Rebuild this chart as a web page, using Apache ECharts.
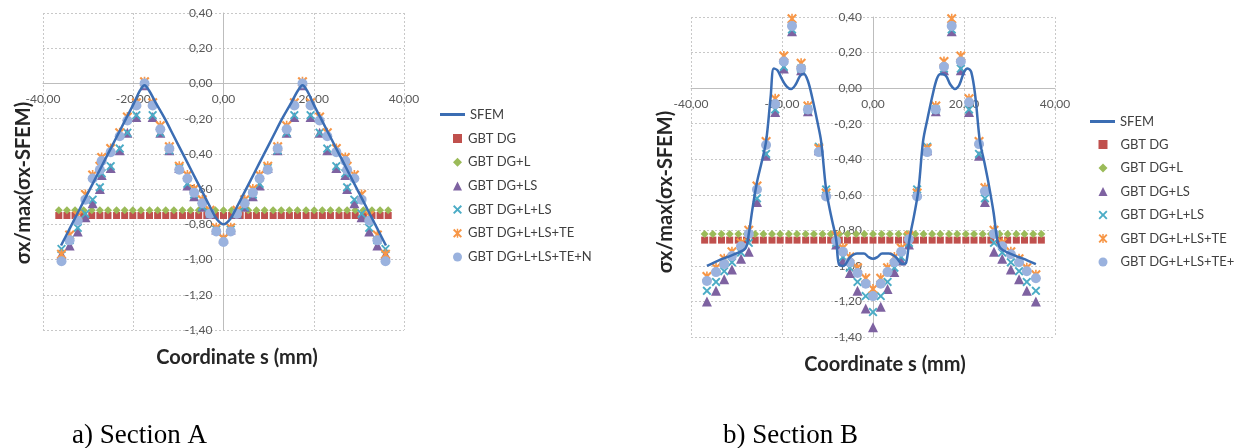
<!DOCTYPE html>
<html>
<head>
<meta charset="utf-8">
<script src="https://cdn.jsdelivr.net/npm/echarts@6/dist/echarts.min.js"></script>
<style>
html,body{margin:0;padding:0;background:#fff;}
#c{width:1235px;height:448px;}
</style>
</head>
<body>
<div id="c"></div>
<script>
// ---------- Section A ----------
const A_SFEM_X = [-36,-34,-32,-30,-28,-26,-24,-22,-20,-18.5,-17.5,-16.5,-15,-13,-11,-9,-7,-5,-3,-1.5,0,1.5,3,5,7,9,11,13,15,16.5,17.5,18.5,20,22,24,26,28,30,32,34,36];
const A_SFEM_Y = [-0.92,-0.82,-0.72,-0.62,-0.52,-0.42,-0.32,-0.22,-0.12,-0.04,-0.01,-0.04,-0.11,-0.20,-0.30,-0.40,-0.50,-0.60,-0.70,-0.77,-0.80,-0.77,-0.70,-0.60,-0.50,-0.40,-0.30,-0.20,-0.11,-0.04,-0.01,-0.04,-0.12,-0.22,-0.32,-0.42,-0.52,-0.62,-0.72,-0.82,-0.92];

const A_FLAT_X = [-36.5,-34.7,-32.9,-31.0,-29.2,-27.4,-25.6,-23.7,-21.9,-20.1,-18.3,-16.4,-14.6,-12.8,-11.0,-9.1,-7.3,-5.5,-3.7,-1.8,0,1.8,3.7,5.5,7.3,9.1,11.0,12.8,14.6,16.4,18.3,20.1,21.9,23.7,25.6,27.4,29.2,31.0,32.9,34.7,36.5];
const A_DG  = [-0.75,-0.75,-0.75,-0.75,-0.75,-0.75,-0.75,-0.75,-0.75,-0.75,-0.75,-0.75,-0.75,-0.75,-0.75,-0.75,-0.75,-0.75,-0.75,-0.75,-0.75,-0.75,-0.75,-0.75,-0.75,-0.75,-0.75,-0.75,-0.75,-0.75,-0.75,-0.75,-0.75,-0.75,-0.75,-0.75,-0.75,-0.75,-0.75,-0.75,-0.75];
const A_DGL = [-0.72,-0.72,-0.72,-0.72,-0.72,-0.72,-0.72,-0.72,-0.72,-0.72,-0.72,-0.72,-0.72,-0.72,-0.72,-0.72,-0.72,-0.72,-0.72,-0.72,-0.72,-0.72,-0.72,-0.72,-0.72,-0.72,-0.72,-0.72,-0.72,-0.72,-0.72,-0.72,-0.72,-0.72,-0.72,-0.72,-0.72,-0.72,-0.72,-0.72,-0.72];

const A_GBT_X = [-35.9,-34.1,-32.3,-30.6,-29.0,-27.4,-27.0,-25.0,-23.0,-21.3,-19.3,-17.5,-15.7,-14.0,-12.0,-9.8,-8.0,-6.5,-4.7,-3.0,-1.6,0,1.6,3.0,4.7,6.5,8.0,9.8,12.0,14.0,15.7,17.5,19.3,21.3,23.0,25.0,27.0,27.4,29.0,30.6,32.3,34.1,35.9];
const A_LS  = [-0.97,-0.92,-0.84,-0.76,-0.68,-0.60,-0.52,-0.48,-0.38,-0.28,-0.19,-0.01,-0.19,-0.28,-0.38,-0.48,-0.58,-0.64,-0.70,-0.74,-0.83,-0.88,-0.83,-0.74,-0.70,-0.64,-0.58,-0.48,-0.38,-0.28,-0.19,-0.01,-0.19,-0.28,-0.38,-0.48,-0.52,-0.60,-0.68,-0.76,-0.84,-0.92,-0.97];
const A_LLS = [-0.94,-0.89,-0.82,-0.74,-0.66,-0.59,-0.51,-0.47,-0.37,-0.28,-0.18,-0.01,-0.18,-0.28,-0.38,-0.48,-0.57,-0.63,-0.70,-0.74,-0.83,-0.88,-0.83,-0.74,-0.70,-0.63,-0.57,-0.48,-0.38,-0.28,-0.18,-0.01,-0.18,-0.28,-0.37,-0.47,-0.51,-0.59,-0.66,-0.74,-0.82,-0.89,-0.94];
const A_TE  = [-0.97,-0.86,-0.75,-0.63,-0.52,-0.47,-0.42,-0.37,-0.28,-0.19,-0.11,0.01,-0.11,-0.24,-0.36,-0.47,-0.52,-0.60,-0.66,-0.72,-0.82,-0.88,-0.82,-0.72,-0.66,-0.60,-0.52,-0.47,-0.36,-0.24,-0.11,0.01,-0.11,-0.19,-0.28,-0.37,-0.42,-0.47,-0.52,-0.63,-0.75,-0.86,-0.97];
const A_N   = [-1.01,-0.89,-0.78,-0.66,-0.54,-0.49,-0.44,-0.39,-0.30,-0.21,-0.125,0.00,-0.125,-0.26,-0.37,-0.49,-0.54,-0.62,-0.68,-0.74,-0.84,-0.90,-0.84,-0.74,-0.68,-0.62,-0.54,-0.49,-0.37,-0.26,-0.125,0.00,-0.125,-0.21,-0.30,-0.39,-0.44,-0.49,-0.54,-0.66,-0.78,-0.89,-1.01];

// ---------- Section B ----------
const B_SFEM_X = [-36.5,-34,-32,-30,-28,-27.3,-26.5,-25.5,-24.5,-23.5,-22.5,-21.8,-21,-20,-19,-18,-17,-16,-15.2,-14.3,-13.3,-12.3,-11.4,-10.3,-9.2,-8.1,-7.5,-6.5,-5,-3.5,-2,-1,0,1,2,3.5,5,6.5,7.3,8,9,10,11,12,13,14,14.8,16,17,18,19,20,20.8,21.6,22.5,23.5,24.5,25.5,26.5,27.3,28,30,32,34,35.8];
const B_SFEM_Y = [-1.00,-0.97,-0.95,-0.93,-0.90,-0.82,-0.68,-0.53,-0.42,-0.30,-0.05,0.11,0.10,0.05,0.01,-0.005,0.02,0.07,0.08,0.04,-0.06,-0.18,-0.30,-0.57,-0.72,-0.85,-0.99,-1.00,-0.95,-0.93,-0.93,-0.95,-0.96,-0.95,-0.93,-0.93,-0.95,-0.99,-0.98,-0.85,-0.72,-0.57,-0.30,-0.17,-0.05,0.05,0.08,0.07,0.02,-0.005,0.02,0.09,0.11,0.09,-0.05,-0.30,-0.42,-0.55,-0.70,-0.85,-0.90,-0.93,-0.95,-0.97,-0.99];

const B_FLAT_X = [-37.0,-35.2,-33.3,-31.5,-29.6,-27.8,-25.9,-24.1,-22.2,-20.4,-18.5,-16.7,-14.8,-13.0,-11.1,-9.3,-7.4,-5.6,-3.7,-1.9,0,1.9,3.7,5.6,7.4,9.3,11.1,13.0,14.8,16.7,18.5,20.4,22.2,24.1,25.9,27.8,29.6,31.5,33.3,35.2,37.0];
const B_DG  = [-0.855,-0.855,-0.855,-0.855,-0.855,-0.855,-0.855,-0.855,-0.855,-0.855,-0.855,-0.855,-0.855,-0.855,-0.855,-0.855,-0.855,-0.855,-0.855,-0.855,-0.855,-0.855,-0.855,-0.855,-0.855,-0.855,-0.855,-0.855,-0.855,-0.855,-0.855,-0.855,-0.855,-0.855,-0.855,-0.855,-0.855,-0.855,-0.855,-0.855,-0.855];
const B_DGL = [-0.82,-0.82,-0.82,-0.82,-0.82,-0.82,-0.82,-0.82,-0.82,-0.82,-0.82,-0.82,-0.82,-0.82,-0.82,-0.82,-0.82,-0.82,-0.82,-0.82,-0.82,-0.82,-0.82,-0.82,-0.82,-0.82,-0.82,-0.82,-0.82,-0.82,-0.82,-0.82,-0.82,-0.82,-0.82,-0.82,-0.82,-0.82,-0.82,-0.82,-0.82];

const B_GBT_X = [-36.5,-34.5,-32.7,-31.0,-29.0,-27.3,-25.5,-23.5,-21.5,-19.6,-17.8,-15.8,-14.3,-11.9,-10.3,-8.1,-6.6,-5.1,-3.4,-1.6,0,1.7,3.2,4.7,6.2,7.9,9.7,11.9,13.8,15.6,17.3,19.3,21.1,23.3,24.6,26.6,28.4,30.3,32.1,33.8,35.8];
const B_LS  = [-1.20,-1.14,-1.075,-1.02,-0.96,-0.92,-0.64,-0.38,-0.135,0.11,0.32,0.10,-0.13,-0.35,-0.58,-0.88,-0.97,-1.04,-1.14,-1.24,-1.345,-1.23,-1.13,-1.035,-0.97,-0.88,-0.58,-0.35,-0.13,0.10,0.32,0.10,-0.135,-0.38,-0.64,-0.92,-0.96,-1.02,-1.075,-1.14,-1.20];
const B_LLS = [-1.14,-1.09,-1.03,-0.98,-0.925,-0.87,-0.62,-0.37,-0.12,0.12,0.33,0.11,-0.12,-0.33,-0.57,-0.87,-0.95,-1.01,-1.09,-1.17,-1.26,-1.17,-1.09,-1.01,-0.95,-0.87,-0.57,-0.33,-0.12,0.11,0.33,0.11,-0.12,-0.37,-0.62,-0.87,-0.925,-0.98,-1.03,-1.09,-1.14];
const B_TE  = [-1.06,-1.01,-0.96,-0.92,-0.87,-0.80,-0.55,-0.30,-0.06,0.18,0.39,0.14,-0.10,-0.34,-0.59,-0.83,-0.90,-0.95,-1.01,-1.07,-1.13,-1.07,-1.01,-0.95,-0.90,-0.83,-0.59,-0.34,-0.10,0.15,0.39,0.18,-0.06,-0.30,-0.56,-0.80,-0.87,-0.92,-0.96,-1.01,-1.05];
const B_N   = [-1.085,-1.035,-0.99,-0.945,-0.89,-0.82,-0.57,-0.32,-0.09,0.15,0.35,0.11,-0.12,-0.36,-0.61,-0.86,-0.92,-0.98,-1.04,-1.10,-1.17,-1.10,-1.035,-0.98,-0.92,-0.85,-0.61,-0.36,-0.12,0.12,0.35,0.15,-0.08,-0.315,-0.58,-0.82,-0.89,-0.935,-0.98,-1.03,-1.07];

// ---------- labels ----------
const SERIES_NAMES = ['SFEM','GBT DG','GBT DG+L','GBT DG+LS','GBT DG+L+LS','GBT DG+L+LS+TE','GBT DG+L+LS+TE+N'];
const X_TITLE = 'Coordinate s (mm)';
const Y_TITLE = 'σx/max(σx-SFEM)';
const CAPTIONS = ['a) Section A', 'b) Section B'];

const X_MIN = -40, X_MAX = 40, X_STEP = 20;
const Y_MIN = -1.4, Y_MAX = 0.4, Y_STEP = 0.2;

const zip = (xs, ys) => xs.map((x, i) => [x, ys[i]]);
const fmt = v => (Math.abs(v) < 1e-9 ? 0 : v).toFixed(2).replace('.', ',');

const X_PATH = 'path://M1.5,0 L5,3.5 L8.5,0 L10,1.5 L6.5,5 L10,8.5 L8.5,10 L5,6.5 L1.5,10 L0,8.5 L3.5,5 L0,1.5 Z';
const STAR_PATH = 'path://M1.5,0 L5,3.5 L8.5,0 L10,1.5 L6.5,5 L10,8.5 L8.5,10 L5,6.5 L1.5,10 L0,8.5 L3.5,5 L0,1.5 Z M4.2,0 L5.8,0 L5.8,10 L4.2,10 Z';
const LINE_ICON = 'path://M0,0 L40,0 L40,4 L0,4 Z';

const COLORS = {
  sfem: '#3B6DB3', dg: '#C0504D', dgl: '#9BBB59', ls: '#7E62A1',
  lls: '#4BACC6', te: '#F79646', n: '#9AB2DE'
};

const GRIDS = [
  {left: 43, top: 13, width: 361, height: 317},
  {left: 691, top: 17, width: 364, height: 320}
];

// axes cross at zero: place them by shifting from the grid edges to the zero position
function axisPair(gi) {
  const g = GRIDS[gi];
  const xZeroShift = g.height * (0 - Y_MIN) / (Y_MAX - Y_MIN);
  const yZeroShift = g.width * (0 - X_MIN) / (X_MAX - X_MIN);
  const lab = {color: '#595959', fontFamily: 'Lato', fontSize: 12};
  const split = {show: true, lineStyle: {type: [2, 2], color: '#c8c8c8', width: 1}};
  return {
    x: {type: 'value', gridIndex: gi, min: X_MIN, max: X_MAX, interval: X_STEP,
        position: 'bottom', offset: -xZeroShift,
        axisLine: {show: true, onZero: false, lineStyle: {color: '#bdbdbd', width: 1}},
        axisTick: {show: false},
        axisLabel: Object.assign({formatter: fmt, margin: 10}, lab),
        splitLine: split},
    y: {type: 'value', gridIndex: gi, min: Y_MIN, max: Y_MAX, interval: Y_STEP,
        position: 'left', offset: -yZeroShift,
        axisLine: {show: true, onZero: false, lineStyle: {color: '#bdbdbd', width: 1}},
        axisTick: {show: false},
        axisLabel: Object.assign({formatter: fmt, margin: 11}, lab),
        splitLine: split}
  };
}

function seriesFor(gi, d) {
  const base = {xAxisIndex: gi, yAxisIndex: gi, animation: false, silent: true, symbolKeepAspect: true};
  return [
    Object.assign({name: SERIES_NAMES[0], type: 'line', data: zip(d.sfemX, d.sfemY), smooth: 0.35,
      symbol: 'none', showSymbol: false, lineStyle: {color: COLORS.sfem, width: 2.5}, itemStyle: {color: COLORS.sfem}}, base),
    Object.assign({name: SERIES_NAMES[1], type: 'scatter', data: zip(d.flatX, d.dg), symbol: 'rect', symbolSize: 7,
      itemStyle: {color: COLORS.dg, opacity: 1}}, base),
    Object.assign({name: SERIES_NAMES[2], type: 'scatter', data: zip(d.flatX, d.dgl), symbol: 'diamond', symbolSize: 8,
      itemStyle: {color: COLORS.dgl, opacity: 1}}, base),
    Object.assign({name: SERIES_NAMES[3], type: 'scatter', data: zip(d.gx, d.ls), symbol: 'triangle', symbolSize: 10,
      itemStyle: {color: COLORS.ls, opacity: 1}}, base),
    Object.assign({name: SERIES_NAMES[4], type: 'scatter', data: zip(d.gx, d.lls), symbol: X_PATH, symbolSize: 9,
      itemStyle: {color: COLORS.lls, opacity: 1}}, base),
    Object.assign({name: SERIES_NAMES[5], type: 'scatter', data: zip(d.gx, d.te), symbol: STAR_PATH, symbolSize: 10,
      itemStyle: {color: COLORS.te, opacity: 1}}, base),
    Object.assign({name: SERIES_NAMES[6], type: 'scatter', data: zip(d.gx, d.n), symbol: 'circle', symbolSize: 10,
      itemStyle: {color: COLORS.n, opacity: 1}}, base)
  ];
}

const aAx = axisPair(0), bAx = axisPair(1);

const legendText = {color: '#404040', fontFamily: 'Lato', fontSize: 13};
function lineLegend(left, top, w) {
  return {orient: 'vertical', left: left, top: top, itemWidth: w, itemHeight: 3, selectedMode: false,
    symbolKeepAspect: false, textStyle: legendText,
    data: [{name: SERIES_NAMES[0], icon: LINE_ICON}]};
}
function markerLegend(left, top, gap, padLeft) {
  return {orient: 'vertical', left: left, top: top, itemWidth: 9, itemHeight: 9, itemGap: gap,
    selectedMode: false, symbolKeepAspect: true,
    textStyle: Object.assign({padding: [0, 0, 0, padLeft]}, legendText),
    data: SERIES_NAMES.slice(1)};
}

function titleText(x, y, text, rot) {
  return {type: 'text', x: x, y: y, rotation: rot || 0, silent: true,
    style: {text: text, font: 'bold 20px Lato', fill: '#262626',
      align: 'center', verticalAlign: 'middle', textAlign: 'center', textVerticalAlign: 'middle'}};
}
function caption(x, y, text) {
  return {type: 'text', x: x, y: y, silent: true,
    style: {text: text, font: '27px "Liberation Serif"', fill: '#000',
      align: 'left', verticalAlign: 'bottom', textAlign: 'left', textVerticalAlign: 'bottom'}};
}

const option = {
  animation: false,
  backgroundColor: '#ffffff',
  grid: GRIDS.map(g => Object.assign({containLabel: false}, g)),
  xAxis: [aAx.x, bAx.x],
  yAxis: [aAx.y, bAx.y],
  legend: [
    lineLegend(435, 103, 25),
    markerLegend(448, 127, 10.7, 1),
    lineLegend(1085, 110, 25),
    markerLegend(1093.5, 133, 10.5, 8)
  ],
  graphic: [
    titleText(24, 183, Y_TITLE, Math.PI / 2),
    titleText(237, 358, X_TITLE),
    titleText(666, 192, Y_TITLE, Math.PI / 2),
    titleText(885, 365, X_TITLE),
    caption(72, 449, CAPTIONS[0]),
    caption(723, 449, CAPTIONS[1])
  ],
  series: [].concat(
    seriesFor(0, {sfemX: A_SFEM_X, sfemY: A_SFEM_Y, flatX: A_FLAT_X, dg: A_DG, dgl: A_DGL,
                  gx: A_GBT_X, ls: A_LS, lls: A_LLS, te: A_TE, n: A_N}),
    seriesFor(1, {sfemX: B_SFEM_X, sfemY: B_SFEM_Y, flatX: B_FLAT_X, dg: B_DG, dgl: B_DGL,
                  gx: B_GBT_X, ls: B_LS, lls: B_LLS, te: B_TE, n: B_N})
  )
};

const chart = echarts.init(document.getElementById('c'), null, {renderer: 'canvas'});
chart.setOption(option);
</script>
</body>
</html>
